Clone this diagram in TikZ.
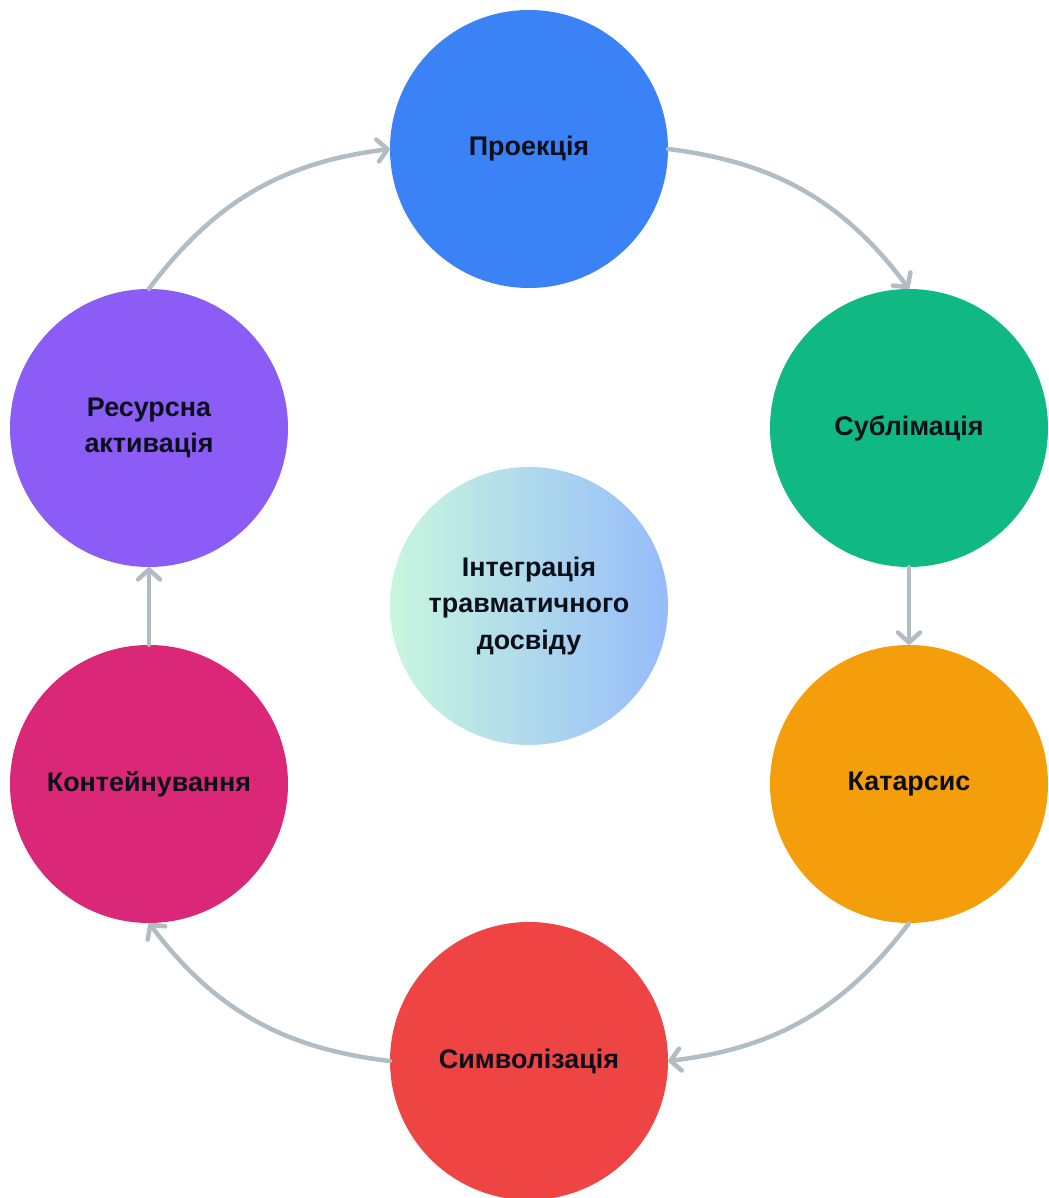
\documentclass[tikz,border=0pt]{standalone}
\usepackage{fontspec}
\setmainfont{Liberation Sans}
\usetikzlibrary{arrows.meta, shapes.geometric}
\definecolor{myBlue}{HTML}{3B82F6}
\definecolor{myGreen}{HTML}{10B981}
\definecolor{myAmber}{HTML}{F59E0B}
\definecolor{myRed}{HTML}{EF4444}
\definecolor{myPink}{HTML}{DB2777}
\definecolor{myViolet}{HTML}{8B5CF6}
\definecolor{myMint}{RGB}{200,246,222}
\definecolor{mySky}{RGB}{150,188,250}
\definecolor{myGray}{RGB}{176,189,197}
\definecolor{myText}{HTML}{0B0F1A}

\begin{document}
\begin{tikzpicture}[
				x=1bp, y=1bp,
				stage/.style={circle, minimum size=278bp, inner sep=0pt, align=center, text=myText, font=\fontsize{27}{37}\selectfont\bfseries},
				arr/.style={-{Straight Barb[length=10bp, width=22bp, line cap=round, line join=round]}, line width=4.5bp, line cap=round, myGray}
			]
				\useasboundingbox (0,0) rectangle (1049,1198);

				% stages round the cycle
				\node[stage, fill=myBlue] (proj) at (529,1049) {Проекція};
				\node[stage, fill=myGreen] (subl) at (909,770) {Сублімація};
				\node[stage, fill=myAmber] (kat) at (909,414) {Катарсис};
				\node[stage, fill=myRed] (symb) at (529,137) {Символізація};
				\node[stage, fill=myPink] (kont) at (149,414) {Контейнування};
				\node[stage, fill=myViolet] (res) at (149,770) {Ресурсна\\активація};

				% centre
				\node[stage, left color=myMint, right color=mySky] (integ) at (529,592) {Інтеграція\\травматичного\\досвіду};

				\draw[arr] (proj.east) to[bend left=23] (subl.north);
				\draw[arr] (subl.south) -- (kat.north);
				\draw[arr] (kat.south) to[bend left=23] (symb.east);
				\draw[arr] (symb.west) to[bend left=23] (kont.south);
				\draw[arr] (kont.north) -- (res.south);
				\draw[arr] (res.north) to[bend left=23] (proj.west);
			\end{tikzpicture}
\end{document}
